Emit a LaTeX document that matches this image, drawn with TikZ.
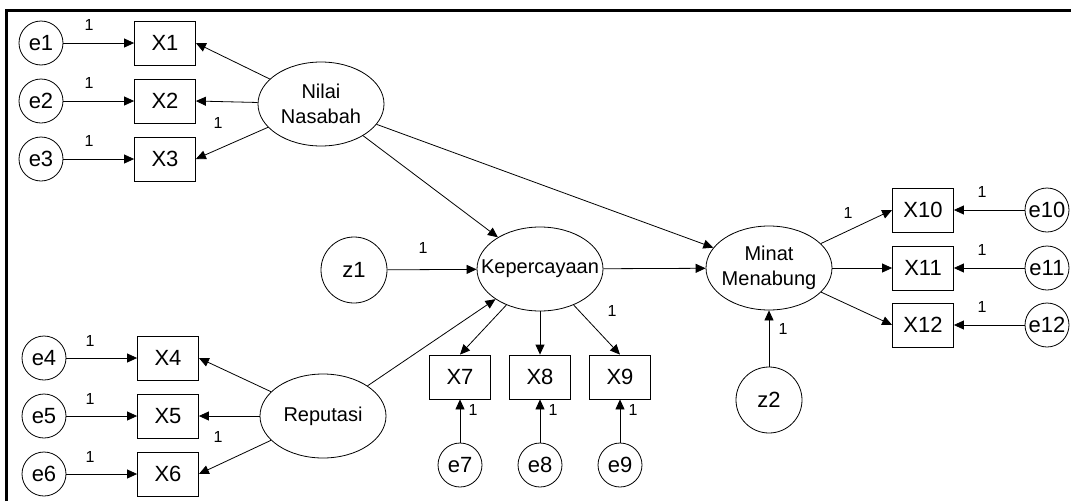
\documentclass[tikz,border=0pt]{standalone}
\usepackage{fontspec}
\setmainfont{Liberation Sans}
\usetikzlibrary{shapes.geometric, arrows.meta}
\def\boxfont{\fontsize{22}{26}\selectfont}

\begin{document}
\begin{tikzpicture}[x=1pt,y=-1pt,line width=0.8pt,>={Triangle[length=10pt,width=9pt]}]
    \tikzstyle{arrow}=[->]
    \tikzstyle{indicator}=[rectangle,draw,minimum width=61pt,minimum height=44pt,inner sep=0pt,font=\boxfont]
    \tikzstyle{error}=[circle,draw,minimum size=44pt,inner sep=0pt,font=\boxfont]
    \tikzstyle{disturbance}=[circle,draw,minimum size=66pt,inner sep=0pt,font=\boxfont]
    \tikzstyle{latent}=[ellipse,draw,minimum width=126pt,minimum height=84pt,inner sep=0pt]
    \tikzstyle{latent name}=[align=center,inner sep=0pt,font=\fontsize{20}{25}\selectfont]
    \tikzstyle{weight}=[inner sep=0pt,font=\fontsize{16}{18}\selectfont]

    \useasboundingbox (0,0) rectangle (1071,501);
    \draw[line width=3pt] (6.5,501) -- (6.5,10.5) -- (1071,10.5);

    % Draw the latent variables
    \node[latent, label={[latent name]center:Nilai\\Nasabah}] (NN) at (321,104) {};
    \node[latent, label={[latent name]center:Reputasi}] (RP) at (323,416) {};
    \node[latent, label={[latent name]center:Kepercayaan}] (KP) at (540,269) {};
    \node[latent, label={[latent name]center:Minat\\Menabung}] (MM) at (769,268) {};
    \node[disturbance] (z1) at (354,270) {z1};
    \node[disturbance] (z2) at (769,400) {z2};

    % Draw the indicators and their error terms
    \foreach \name / \y in {1/43,2/101,3/159} {
        \node[error] (e\name) at (41,\y) {e\name};
        \node[indicator] (X\name) at (165,\y) {X\name};
        \node[weight] (w\name) at (89,\y-18) {1};
    }
    \foreach \name / \y in {4/358,5/416,6/474} {
        \node[error] (e\name) at (44,\y) {e\name};
        \node[indicator] (X\name) at (168,\y) {X\name};
        \node[weight] (w\name) at (90,\y-17) {1};
    }
    \foreach \name / \x in {7/460,8/540,9/620} {
        \node[error] (e\name) at (\x,465) {e\name};
        \node[indicator] (X\name) at (\x,377) {X\name};
        \node[weight] (w\name) at (\x+13,410) {1};
    }
    \foreach \name / \y in {10/210,11/268,12/325} {
        \node[error] (e\name) at (1047,\y) {e\name};
        \node[indicator] (X\name) at (923,\y) {X\name};
        \node[weight] (w\name) at (982,\y-18) {1};
    }

    % Fixed weights on the paths
    \node[weight] (wNN) at (218,123) {1};
    \node[weight] (wRP) at (218,437) {1};
    \node[weight] (wKP) at (612,311) {1};
    \node[weight] (wMM) at (848,213) {1};
    \node[weight] (wz1) at (423,248) {1};
    \node[weight] (wz2) at (783,329) {1};

    % Connect every error term with its indicator
    \foreach \source in {1,...,12}
        \draw[arrow] (e\source) -- (X\source);

    % Connect the latent variables with their indicators
    \foreach \dest in {1,2,3}
        \draw[arrow] (NN) -- (X\dest.east);
    \foreach \dest in {4,5,6}
        \draw[arrow] (RP) -- (X\dest.east);
    \foreach \dest in {7,8,9}
        \draw[arrow] (KP) -- (X\dest.north);
    \foreach \dest in {10,11,12}
        \draw[arrow] (MM) -- (X\dest.west);

    % Structural paths
    \draw[arrow] (NN) -- (KP);
    \draw[arrow] (NN) -- (MM);
    \draw[arrow] (RP) -- (KP);
    \draw[arrow] (KP) -- (MM);
    \draw[arrow] (z1) -- (KP);
    \draw[arrow] (z2) -- (MM);
\end{tikzpicture}
\end{document}
